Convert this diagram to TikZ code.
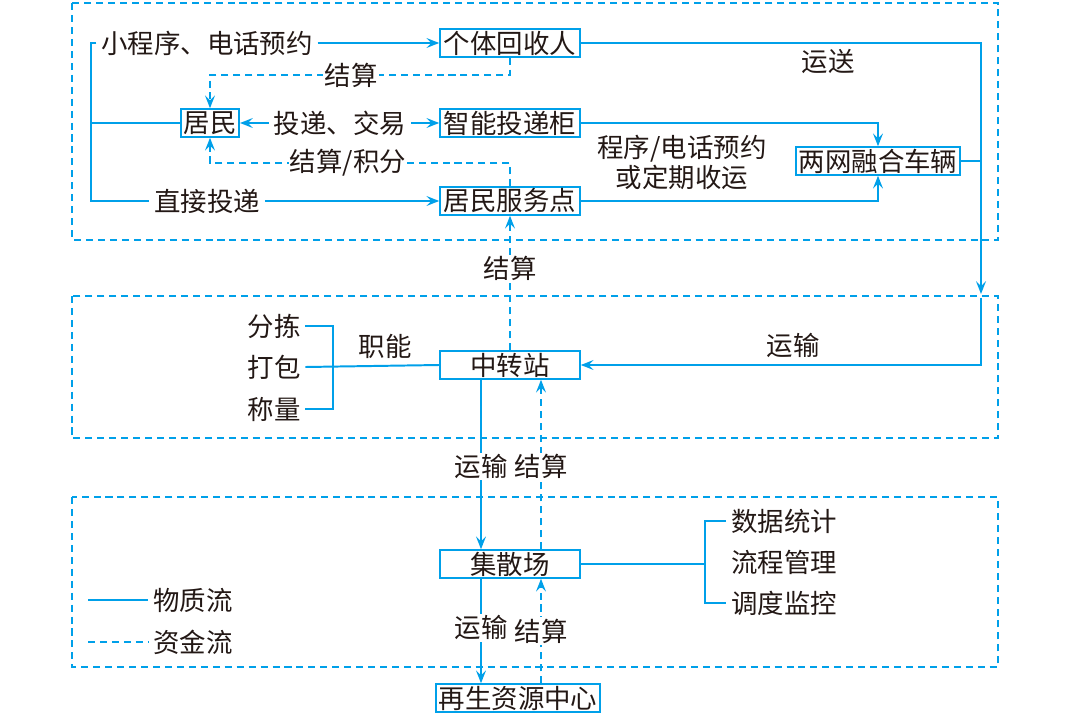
\documentclass[tikz,border=0pt]{standalone}
\usepackage{fontspec}
\setmainfont{Noto Sans CJK SC}
\usetikzlibrary{arrows.meta,calc}
\definecolor{flowblue}{RGB}{0,160,233}
\definecolor{inkgray}{RGB}{35,24,21}

\begin{document}
\begin{tikzpicture}[x=0.025cm,y=-0.025cm,
  every node/.style={font=\fontsize{18.8}{21.3}\selectfont,text=inkgray},
  box/.style={draw=flowblue,line width=1.1pt,inner xsep=2pt,inner ysep=0pt,minimum height=0.7cm},
  widebox/.style={box,minimum width=3.5cm},
  lbl/.style={fill=white,inner sep=1pt},
  flow/.style={draw=flowblue,line width=1.4pt},
  money/.style={draw=flowblue,line width=1.4pt,dash pattern=on 5pt off 3.5pt},
  frame/.style={draw=flowblue,line width=1.4pt,dash pattern=on 5pt off 3.5pt},
  >={Stealth[length=9pt,width=7pt,inset=3.5pt]}]
	\useasboundingbox (0,0) rectangle (1080,723);

	\draw[frame] (72,3) rectangle (998,240);
	\draw[frame] (72,296) rectangle (998,438);
	\draw[frame] (72,497) rectangle (998,667);

	\node[widebox] (collector) at (510,43) {个体回收人};
	\node[box] (resident) at (210,123) {居民};
	\node[widebox] (locker) at (510,123) {智能投递柜};
	\node[widebox] (station) at (510,201) {居民服务点};
	\node[box] (vehicle) at (878,161) {两网融合车辆};
	\node[widebox] (transfer) at (510,365) {中转站};
	\node[widebox] (hub) at (510,564) {集散场};
	\node[box] (recycle) at (518,698) {再生资源中心};

	\node (booking) at (207,43) {小程序、电话预约};
	\node (direct) at (207,201) {直接投递};
	\node (deal) at (340,123) {投递、交易};
	\node (carry) at (828,62) {运送};
	\node[align=center] (schedule) at (682,162) {程序/电话预约\\或定期收运};
	\node (ship) at (793,345) {运输};
	\node (duty) at (385,346) {职能};
	\node (sort) at (274,326) {分拣};
	\node (pack) at (274,367) {打包};
	\node (weigh) at (274,409) {称量};
	\node (stats) at (784,521) {数据统计};
	\node (process) at (784,562) {流程管理};
	\node (dispatch) at (784,603) {调度监控};
	\node (matter) at (193,600) {物质流};
	\node (fund) at (193,642) {资金流};

	\coordinate (lt) at (91,43);
	\coordinate (lb) at (91,201);
	\coordinate (rt) at (981,294);
	\coordinate (rb) at (981,298);
	\coordinate (dA) at (510,75);
	\coordinate (dC) at (510,163);
	\coordinate (bt) at (333,326);
	\coordinate (bb) at (333,409);
	\coordinate (kt) at (705,521);
	\coordinate (kb) at (705,603);
	\coordinate (m0) at (88,600);
	\coordinate (f0) at (88,642);

	% material flow
	\draw[flow] (booking.west) -- (lt) -- (lb) -- (direct.west);
	\draw[flow] (lt |- resident) -- (resident.west);
	\draw[flow,->] (booking.east) -- (collector.west);
	\draw[flow,->] (direct.east) -- (station.west);
	\draw[flow,->] (deal.west) -- (resident.east);
	\draw[flow,->] (deal.east) -- (locker.west);
	\draw[flow,->] (locker.east) -| (vehicle.north);
	\draw[flow,->] (station.east) -| (vehicle.south);
	\draw[flow,->] (collector.east) -| (rt);
	\draw[flow] (vehicle.east) -- (vehicle.east -| rt);
	\draw[flow,->] (rb) |- (transfer.east);

	% money flow
	\draw[money,->] (collector.south) -- (collector.south |- dA) -- node[lbl,pos=0.53] (settleA) {结算} (resident.north |- dA) -- (resident.north);
	\draw[money,->] (station.north) -- (station.north |- dC) -- node[lbl,pos=0.54] (settleB) {结算/积分} (resident.south |- dC) -- (resident.south);
	\draw[money,->] (transfer.north) -- node[lbl,pos=0.61] (settleC) {结算} (station.south);

	\draw[flow] (sort.east) -- (bt) -- (bb) -- (weigh.east);
	\draw[flow] (pack.east) -- (transfer.west);

	\coordinate (tA) at ($(transfer.south)+(-29,0)$);
	\coordinate (tB) at ($(transfer.south)+(31,0)$);
	\coordinate (hA) at ($(hub.south)+(-29,0)$);
	\coordinate (hB) at ($(hub.south)+(31,0)$);
	\draw[flow,->] (tA) -- node[lbl,pos=0.51] (shipA) {运输} (tA |- hub.north);
	\draw[money,->] (tB |- hub.north) -- node[lbl,pos=0.49] (settleD) {结算} (tB);
	\draw[flow,->] (hA) -- node[lbl,pos=0.47] (shipB) {运输} (hA |- recycle.north);
	\draw[money,->] (hB |- recycle.north) -- node[lbl,pos=0.5] (settleE) {结算} (hB);

	\draw[flow] (hub.east) -- (hub.east -| kt);
	\draw[flow] (stats.west) -- (kt) -- (kb) -- (dispatch.west);

	% legend
	\draw[flow] (m0) -- (matter.west);
	\draw[money] (f0) -- (fund.west);
\end{tikzpicture}
\end{document}
